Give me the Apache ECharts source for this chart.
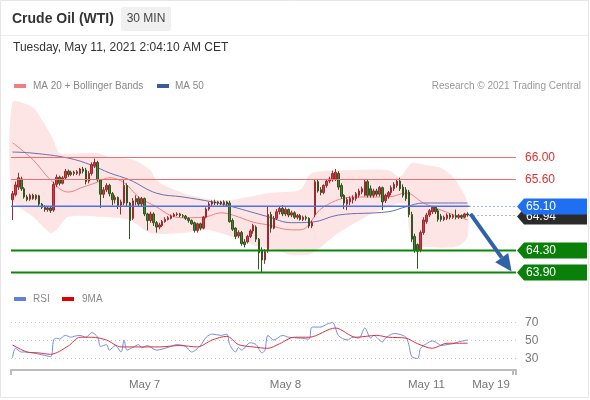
<!DOCTYPE html>
<html><head><meta charset="utf-8">
<script src="https://cdn.jsdelivr.net/npm/echarts@6/dist/echarts.min.js"></script>
<style>html,body{margin:0;padding:0;background:#fff}#c{width:590px;height:400px}</style>
</head><body><div id="c"></div>
<script>
// ---------- DATA ----------
const slotCount = 172;            // 30-min slots incl. projection area
const xLabels = ['May 7', 'May 8', 'May 11', 'May 19'];
const xLabelIdx = [45, 93, 141, 163];

// [open, close, low, high]
const candles = [
[65.22,65.33,64.85,65.38],[65.31,65.49,65.28,65.55],[65.45,65.62,65.40,65.71],[65.60,65.42,65.38,65.64],
[65.42,65.27,65.24,65.45],[65.27,65.22,65.19,65.31],[65.23,65.30,65.20,65.33],[65.30,65.24,65.22,65.33],
[65.24,65.30,65.21,65.32],[65.29,65.14,65.10,65.31],[65.14,65.08,65.05,65.16],[65.08,65.04,65.00,65.12],
[65.04,65.07,65.00,65.10],[65.07,65.02,64.98,65.09],[65.03,65.50,65.00,65.55],[65.50,65.63,65.45,65.68],
[65.63,65.52,65.48,65.66],[65.52,65.62,65.50,65.65],[65.62,65.74,65.58,65.78],[65.74,65.68,65.64,65.77],
[65.68,65.72,65.65,65.75],[65.72,65.70,65.66,65.75],[65.70,65.73,65.67,65.76],[65.70,65.78,65.66,65.80],
[65.78,65.74,65.70,65.82],[65.76,65.55,65.50,65.80],[65.56,65.70,65.52,65.74],[65.70,65.86,65.66,65.90],
[65.84,65.90,65.80,65.97],[65.90,65.58,65.55,65.93],[65.58,65.32,65.07,65.60],[65.32,65.40,65.25,65.45],
[65.40,65.48,65.36,65.52],[65.48,65.33,65.28,65.51],[65.33,65.22,65.12,65.36],[65.22,65.26,65.15,65.30],
[65.26,65.12,65.05,65.28],[65.12,65.18,64.95,65.22],[65.16,65.48,65.12,65.60],[65.48,65.16,65.10,65.52],
[65.16,64.84,64.50,65.18],[64.88,65.20,64.85,65.25],[65.18,65.24,65.12,65.30],[65.24,65.14,65.10,65.28],
[65.14,65.24,65.10,65.27],[65.24,64.96,64.92,65.26],[64.96,64.84,64.66,64.98],[64.84,64.96,64.80,65.00],
[64.96,64.80,64.74,64.99],[64.80,64.72,64.62,64.83],[64.72,64.76,64.68,64.80],[64.75,64.82,64.72,64.85],
[64.82,64.86,64.80,64.90],[64.86,64.89,64.84,64.92],[64.88,64.92,64.86,64.95],[64.92,64.95,64.90,64.98],
[64.95,64.96,64.92,64.99],[64.96,64.93,64.90,64.98],[64.93,64.92,64.89,64.96],[64.92,64.88,64.85,64.94],
[64.88,64.84,64.80,64.90],[64.84,64.78,64.76,64.86],[64.80,64.66,64.62,64.82],[64.66,64.78,64.62,64.80],
[64.78,64.70,64.66,64.80],[64.70,64.90,64.68,64.92],[64.90,65.05,64.88,65.08],[65.05,65.14,65.02,65.18],
[65.14,65.18,65.10,65.21],[65.18,65.16,65.12,65.22],[65.16,65.18,65.12,65.20],[65.18,65.15,65.12,65.20],
[65.14,65.18,65.10,65.21],[65.18,65.14,65.10,65.20],[65.16,64.82,64.80,65.20],[64.84,64.68,64.65,64.88],
[64.70,64.55,64.50,64.72],[64.56,64.62,64.52,64.66],[64.62,64.42,64.38,64.65],[64.45,64.40,64.35,64.50],
[64.45,64.55,64.42,64.58],[64.55,64.65,64.52,64.68],[64.65,64.75,64.60,64.78],[64.72,64.50,64.45,64.75],
[64.50,64.25,63.95,64.52],[64.30,64.12,63.90,64.35],[64.12,64.28,64.05,64.32],[64.30,64.95,64.25,65.10],
[64.95,64.70,64.62,65.00],[64.70,64.88,64.68,64.92],[64.88,65.00,64.85,65.05],[65.00,65.06,64.95,65.10],
[65.06,64.96,64.92,65.12],[64.96,65.04,64.92,65.08],[65.04,64.94,64.90,65.06],[64.94,64.98,64.90,65.02],
[64.98,64.90,64.87,65.01],[64.90,64.93,64.86,64.96],[64.93,64.86,64.84,64.96],[64.86,64.90,64.83,64.93],
[64.90,64.88,64.84,64.93],[64.88,64.74,64.70,64.90],[64.74,64.80,64.70,64.84],[64.95,65.55,64.90,65.58],
[65.55,65.38,65.35,65.58],[65.40,65.35,65.30,65.45],[65.35,65.48,65.32,65.50],[65.48,65.56,65.44,65.60],
[65.56,65.60,65.52,65.64],[65.58,65.70,65.55,65.75],[65.60,65.72,65.56,65.78],[65.70,65.45,65.40,65.74],
[65.48,65.28,65.24,65.52],[65.30,65.16,65.05,65.32],[65.14,65.22,65.03,65.26],[65.18,65.24,65.12,65.28],
[65.22,65.26,65.15,65.30],[65.24,65.33,65.20,65.36],[65.30,65.38,65.26,65.42],[65.36,65.42,65.32,65.46],
[65.30,65.55,65.28,65.58],[65.55,65.30,65.26,65.58],[65.42,65.30,65.26,65.48],[65.30,65.38,65.26,65.42],
[65.38,65.32,65.28,65.42],[65.32,65.44,65.28,65.47],[65.44,65.18,65.03,65.46],[65.20,65.30,65.16,65.33],
[65.28,65.35,65.24,65.38],[65.35,65.44,65.30,65.48],[65.42,65.50,65.38,65.54],[65.48,65.56,65.44,65.60],
[65.56,65.42,65.38,65.62],[65.45,65.30,65.26,65.50],[65.40,65.24,65.20,65.45],[65.36,64.95,64.90,65.40],
[64.95,64.50,64.45,65.00],[64.55,64.30,64.25,64.60],[64.40,64.28,63.96,64.42],[64.30,64.62,64.26,64.66],
[64.62,64.85,64.58,64.90],[64.82,64.94,64.78,64.98],[64.94,65.02,64.90,65.05],[65.00,65.08,64.96,65.10],
[65.08,65.00,64.96,65.10],[65.02,64.86,64.82,65.05],[64.92,64.86,64.82,64.96],[64.86,64.90,64.83,64.93],
[64.88,64.94,64.85,64.97],[64.94,64.90,64.86,64.97],[64.90,64.93,64.87,64.96],[64.93,64.90,64.86,65.04],
[64.90,64.93,64.87,64.96],[64.93,64.90,64.87,64.95],[64.90,64.96,64.88,64.98],[64.96,64.94,64.91,64.99]
];

// [slot index, value]
const ma20 = [[0,66.26],[7,65.95],[13,65.58],[19,65.36],[24,65.45],[29,65.54],[33,65.62],[38,65.53],[43,65.27],
[49,65.09],[55,64.91],[59,64.89],[66,64.91],[71,64.98],[75,64.94],[82,64.81],[87,64.76],[95,64.67],[98,64.67],
[106,65.09],[117,65.27],[128,65.27],[134,65.34],[140,65.16],[146,65.03],[155,64.85]];
const ma50 = [[0,66.09],[7,66.07],[19,65.98],[27,65.85],[33,65.71],[40,65.58],[49,65.34],[58,65.27],[68,65.18],
[75,65.09],[87,64.91],[95,64.80],[102,64.81],[111,64.94],[128,65.00],[134,65.09],[140,65.16],[155,65.16]];
const bbUpper = [[0,67.00],[7,66.91],[10,66.68],[14,66.31],[16,66.07],[24,66.07],[29,66.07],[33,66.00],[41,65.95],
[47,65.76],[49,65.58],[53,65.45],[60,65.31],[68,65.22],[75,65.22],[87,65.34],[98,65.40],[102,65.71],[115,65.76],
[128,65.76],[132,65.64],[136,65.89],[141,65.85],[146,65.80],[150,65.64],[153,65.40],[155,65.16]];
const bbLower = [[0,65.22],[7,64.91],[13,64.61],[15,64.67],[19,64.91],[30,64.91],[40,64.85],[47,64.61],[58,64.61],
[66,64.67],[75,64.54],[84,64.36],[90,64.30],[95,64.21],[102,64.24],[111,64.61],[123,64.98],[132,65.16],[134,65.12],
[136,64.43],[140,64.36],[151,64.36],[155,64.54]];

const rsi = [[0,30.5],[1,41],[3,37],[4,37],[7,36],[10,34],[13,32],[14,50],[15,52],[16,51],[18,55],[20,53],[21,54],
[23,55],[25,53],[27,58],[29,53],[30,43],[32,45],[33,39],[35,44],[37,37],[38,50],[39,39],[41,42],[43,45],[44,41.5],
[46,44],[49,39],[53,42],[56,45],[59,43],[61,37],[64,44],[66,53],[68,56.5],[71,55],[73,56.5],[74,45],[76,37],[77,42],
[78,39],[81,47],[83,45],[85,36],[86,39],[87,55],[89,50],[92,55],[94,53],[98,52],[101,51],[102,64],[105,64],[107,67],
[109,69],[111,55],[114,50],[116,53],[118,52],[120,63],[122,52],[123,55],[126,48],[127,52],[130,57],[132,56],[134,53],
[135,45],[136,32],[138,30],[139,41],[141,46],[143,49],[145,46],[146,44],[148,45],[150,46],[152,48],[155,50]];
const rsiMa9 = [[0,44.6],[5,37],[9,36],[13,34.5],[19,43.5],[23,53],[27,53],[32,50],[37,42.5],[43,42.5],[50,42.5],
[57,44],[63,42.5],[68,50],[73,54],[77,45],[82,42.5],[87,41],[91,46],[96,53],[101,53],[110,63],[117,53],[124,55],
[128,53],[134,52],[138,46],[143,41],[148,46.5],[155,46.5]];
const rsiLevels = [70, 50, 30];

const resistances = [66.00, 65.60];
const pivot = 65.10;
const lastPrice = 64.94;
const supports = [64.30, 63.90];
const arrowFrom = [156, 64.96];
const arrowTo = [170, 63.91];

// ---------- CHART ----------
const FONT = 'Liberation Sans, Arial, sans-serif';
const cats = Array.from({length: slotCount}, (_, i) => String(i));
const chart = echarts.init(document.getElementById('c'), null, {renderer: 'canvas'});

function labelBox(x, y, text, fill, textFill) {
  const w = 70, h = 16;
  return {
    type: 'group',
    children: [
      {type: 'polygon', shape: {points: [[x, y], [x + 7, y - h / 2], [x + w, y - h / 2], [x + w, y + h / 2], [x + 7, y + h / 2]]},
       style: {fill: fill}},
      {type: 'text', style: {x: x + 9, y: y, text: text, fill: textFill, font: '12px ' + FONT, verticalAlign: 'middle'}}
    ]
  };
}

// level data: [slot, price, kind]
const levelData = [];
resistances.forEach(v => levelData.push([0, v, 0]));
levelData.push([0, lastPrice, 1]);
levelData.push([0, pivot, 2]);
supports.forEach(v => levelData.push([0, v, 3]));
const lastIdx = candles.length - 1;

const option = {
  animation: false,
  textStyle: {fontFamily: FONT},
  grid: [
    {left: 11, width: 505, top: 94, height: 186},
    {left: 11, width: 505, top: 310, height: 60}
  ],
  xAxis: [
    {type: 'category', gridIndex: 0, data: cats, show: false, boundaryGap: true},
    {type: 'category', gridIndex: 1, data: cats, boundaryGap: true,
     axisLine: {lineStyle: {color: '#bbb', width: 2}},
     axisTick: {show: true, length: 5, interval: (i) => i === 0 || i >= slotCount - 1, lineStyle: {color: '#bbb', width: 2}},
     axisLabel: {interval: (i) => xLabelIdx.indexOf(i) >= 0,
       formatter: (v, i) => { const k = xLabelIdx.indexOf(Number(v)); return k >= 0 ? xLabels[k] : ''; },
       color: '#777', fontSize: 11.5, margin: 9, fontFamily: FONT},
     splitLine: {show: false}}
  ],
  yAxis: [
    {type: 'value', gridIndex: 0, min: 63.754, max: 67.15, show: false, splitLine: {show: false}},
    {type: 'value', gridIndex: 1, min: 17.5, max: 82.5, show: false, splitLine: {show: false}}
  ],
  graphic: [
    {type: 'rect', shape: {x: 0.5, y: 0.5, width: 588, height: 397}, style: {fill: 'none', stroke: '#e6e6e6', lineWidth: 1}, silent: true},
    {type: 'rect', shape: {x: 1, y: 35, width: 587, height: 1}, style: {fill: '#eeeeee'}},
    {type: 'text', style: {x: 12, y: 19, text: 'Crude Oil (WTI)', font: 'bold 14px ' + FONT, fill: '#333', verticalAlign: 'middle'}},
    {type: 'rect', shape: {x: 121, y: 7, width: 50, height: 24, r: 2}, style: {fill: '#f0f0f0'}},
    {type: 'text', style: {x: 146, y: 19, text: '30 MIN', font: '12px ' + FONT, fill: '#444', align: 'center', verticalAlign: 'middle'}},
    {type: 'text', style: {x: 13, y: 48, text: 'Tuesday, May 11, 2021 2:04:10 AM CET', font: '12px ' + FONT, fill: '#333', verticalAlign: 'middle'}},
    {type: 'rect', shape: {x: 14, y: 84, width: 12, height: 4}, style: {fill: '#f08080'}},
    {type: 'text', style: {x: 33, y: 86, text: 'MA 20 + Bollinger Bands', font: '10px ' + FONT, fill: '#888', verticalAlign: 'middle'}},
    {type: 'rect', shape: {x: 157, y: 84, width: 12, height: 4}, style: {fill: '#3a5a9a'}},
    {type: 'text', style: {x: 175, y: 86, text: 'MA 50', font: '10px ' + FONT, fill: '#888', verticalAlign: 'middle'}},
    {type: 'text', style: {x: 581, y: 86, text: 'Research \u00a9 2021 Trading Central', font: '10px ' + FONT, fill: '#999', align: 'right', verticalAlign: 'middle'}},
    {type: 'rect', shape: {x: 14, y: 297, width: 12, height: 4}, style: {fill: '#6080e0'}},
    {type: 'text', style: {x: 33, y: 299, text: 'RSI', font: '10px ' + FONT, fill: '#888', verticalAlign: 'middle'}},
    {type: 'rect', shape: {x: 62, y: 297, width: 12, height: 4}, style: {fill: '#e00000'}},
    {type: 'text', style: {x: 82, y: 299, text: '9MA', font: '10px ' + FONT, fill: '#888', verticalAlign: 'middle'}}
  ],
  series: [
    { // Bollinger band fill
      type: 'custom', xAxisIndex: 0, yAxisIndex: 0, silent: true, z: 1,
      data: [[0, bbUpper[0][1]]],
      renderItem: (params, api) => {
        const up = bbUpper.map(p => api.coord(p));
        const lo = bbLower.map(p => api.coord(p)).reverse();
        return {type: 'polygon', shape: {points: up.concat(lo), smooth: 0.25}, style: {fill: 'rgba(246,150,150,0.25)'}};
      }
    },
    {type: 'line', name: 'MA 20', xAxisIndex: 0, yAxisIndex: 0, data: ma20, smooth: 0.4, symbol: 'none', z: 2,
     lineStyle: {color: '#f08080', width: 1}},
    {type: 'line', name: 'MA 50', xAxisIndex: 0, yAxisIndex: 0, data: ma50, smooth: 0.4, symbol: 'none', z: 2,
     lineStyle: {color: '#6470b0', width: 1}},
    { // level lines and labels
      type: 'custom', xAxisIndex: 0, yAxisIndex: 0, silent: true, z: 6, clip: false,
      encode: {x: 0, y: 1},
      data: levelData,
      renderItem: (params, api) => {
        const cs = params.coordSys;
        const yc = Math.round(api.coord([0, api.value(1)])[1]);
        const y = yc + 0.5;
        const kind = api.value(2);
        const xl = cs.x, xr = cs.x + cs.width;
        const xLast = api.coord([lastIdx, api.value(1)])[0] + 2;
        const txt = api.value(1).toFixed(2);
        if (kind === 0) {
          return {type: 'group', children: [
            {type: 'rect', shape: {x: xl, y: yc, width: xr - xl, height: 1}, style: {fill: 'rgb(240,110,110)', opacity: 1}},
            {type: 'text', style: {x: xr + 9, y: y, text: txt, fill: '#e03030', font: '12px ' + FONT, verticalAlign: 'middle'}}
          ]};
        } else if (kind === 1) {
          return {type: 'group', children: [
            {type: 'line', shape: {x1: xLast, y1: y, x2: xr, y2: y}, style: {stroke: '#777', lineWidth: 1, lineDash: [1, 3]}},
            labelBox(xr + 1, y + 1, txt, '#2b2b2b', '#fff')
          ]};
        } else if (kind === 2) {
          return {type: 'group', children: [
            {type: 'rect', shape: {x: xl, y: yc - 0.5, width: xLast - xl, height: 1.5}, style: {fill: '#4a72f0'}},
            {type: 'line', shape: {x1: xLast, y1: y, x2: xr, y2: y}, style: {stroke: '#4a72f0', lineWidth: 1, lineDash: [1, 3]}},
            labelBox(xr + 1, y, txt, '#1f6ff2', '#fff')
          ]};
        }
        return {type: 'group', children: [
          {type: 'rect', shape: {x: xl, y: yc - 0.5, width: xr - xl, height: 2}, style: {fill: '#0a870a'}},
          labelBox(xr + 1, y, txt, '#0a7f0a', '#fff')
        ]};
      }
    },
    {type: 'candlestick', xAxisIndex: 0, yAxisIndex: 0, data: candles, barWidth: 2, z: 4,
     itemStyle: {color: '#d33a3f', color0: '#4f7d36', borderColor: '#9c2a2e', borderColor0: '#2f5520', borderWidth: 1}},
    { // projection arrow
      type: 'custom', xAxisIndex: 0, yAxisIndex: 0, silent: true, z: 7, clip: false,
      data: [[arrowFrom[0], arrowFrom[1], arrowTo[0], arrowTo[1]]],
      encode: {x: [0, 2], y: [1, 3]},
      renderItem: (params, api) => {
        const p1 = api.coord([api.value(0), api.value(1)]);
        const p2 = api.coord([api.value(2), api.value(3)]);
        const dx = p2[0] - p1[0], dy = p2[1] - p1[1];
        const len = Math.sqrt(dx * dx + dy * dy), ux = dx / len, uy = dy / len;
        const hl = 17, hw = 8;
        const bx = p2[0] - ux * hl, by = p2[1] - uy * hl;
        return {type: 'group', children: [
          {type: 'line', shape: {x1: p1[0], y1: p1[1], x2: bx, y2: by}, style: {stroke: '#2f62a8', lineWidth: 4}},
          {type: 'polygon', shape: {points: [[p2[0], p2[1]], [bx - uy * hw, by + ux * hw], [bx + uy * hw, by - ux * hw]]},
           style: {fill: '#2f62a8'}}
        ]};
      }
    },
    { // RSI reference levels
      type: 'custom', xAxisIndex: 1, yAxisIndex: 1, silent: true, z: 1, clip: false,
      encode: {x: 0, y: 1},
      data: rsiLevels.map(v => [0, v]),
      renderItem: (params, api) => {
        const cs = params.coordSys;
        const y = Math.round(api.coord([0, api.value(1)])[1]) + 0.5;
        return {type: 'group', children: [
          {type: 'line', shape: {x1: cs.x, y1: y, x2: cs.x + cs.width, y2: y}, style: {stroke: '#c8c8c8', lineWidth: 1, lineDash: [1, 3]}},
          {type: 'text', style: {x: cs.x + cs.width + 9, y: y, text: String(api.value(1)), fill: '#777', font: '12px ' + FONT, verticalAlign: 'middle'}}
        ]};
      }
    },
    {type: 'line', name: 'RSI', xAxisIndex: 1, yAxisIndex: 1, data: rsi, smooth: 0.3, symbol: 'none', z: 2,
     lineStyle: {color: '#6f8fe8', width: 1}},
    {type: 'line', name: '9MA', xAxisIndex: 1, yAxisIndex: 1, data: rsiMa9, smooth: 0.3, symbol: 'none', z: 3,
     lineStyle: {color: '#e0303c', width: 1}}
  ]
};
chart.setOption(option);
</script>
</body></html>
